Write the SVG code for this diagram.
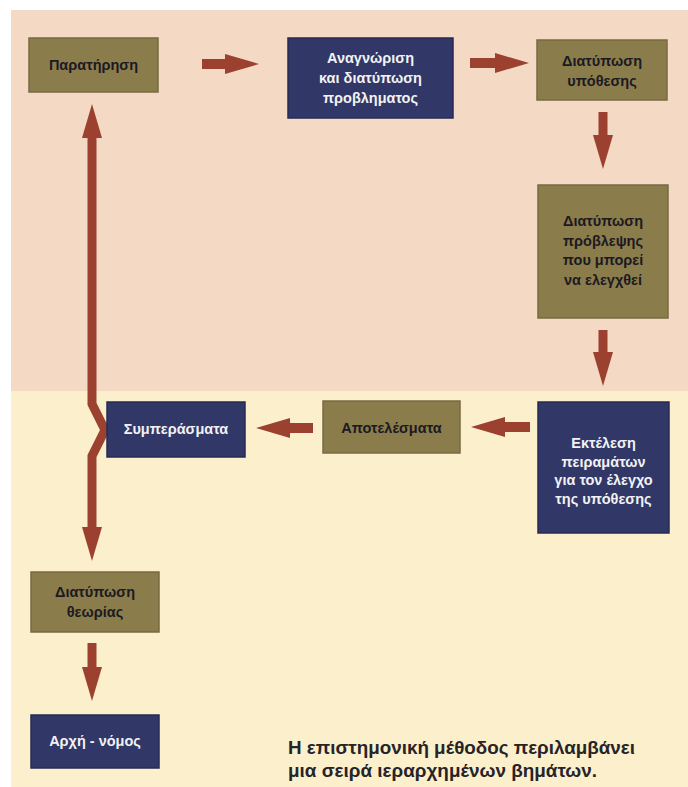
<svg xmlns="http://www.w3.org/2000/svg" width="688" height="787" viewBox="0 0 688 787">
  <defs>
    <style>
      .olive { fill: #8b7c4c; stroke: #786a40; stroke-width: 1.5; }
      .navy { fill: #313767; stroke: #262b54; stroke-width: 1.5; }
      .t { font-family: "Liberation Sans", Arial, sans-serif; font-weight: bold; font-size: 14.5px; text-anchor: middle; }
      .dark { fill: #1b1a22; }
      .light { fill: #f2f2f4; }
      .arr { fill: none; stroke: #9c4030; stroke-linejoin: miter; }
      .h { stroke-width: 10; }
      .v { stroke-width: 9; }
      .cap { font-family: "Liberation Sans", Arial, sans-serif; font-weight: bold; font-size: 17.5px; fill: #262428; }
    </style>
    <marker id="head" markerUnits="userSpaceOnUse" viewBox="0 0 34 20" markerWidth="34" markerHeight="20" refX="1" refY="10" orient="auto-start-reverse">
      <path d="M0,0 L34,10 L0,20 z" fill="#9c4030"/>
    </marker>
  </defs>

  <rect x="0" y="0" width="688" height="787" fill="#ffffff"/>
  <rect x="11" y="10" width="677" height="381" fill="#f4d9c4"/>
  <rect x="11" y="391" width="677" height="396" fill="#fcf0cc"/>

  <g id="connectors">
    <path class="arr h" d="M202,64 H226" marker-end="url(#head)"/>
    <path class="arr h" d="M470,63 H496" marker-end="url(#head)"/>
    <path class="arr v" d="M603,112 V136" marker-end="url(#head)"/>
    <path class="arr v" d="M603,330 V353" marker-end="url(#head)"/>
    <path class="arr h" d="M530,427 H504" marker-end="url(#head)"/>
    <path class="arr h" d="M313,428 H289" marker-end="url(#head)"/>
    <path class="arr v" d="M92,528 V456 L105,430 L92,404 V137" marker-start="url(#head)" marker-end="url(#head)"/>
    <path class="arr v" d="M92,643 V668" marker-end="url(#head)"/>
  </g>

  <g id="paratirisi">
    <rect class="olive" x="29" y="38" width="129" height="54"/>
    <text class="t dark" x="93.5" y="70">Παρατήρηση</text>
  </g>

  <g id="anagnorisi">
    <rect class="navy" x="288" y="38" width="165" height="80"/>
    <text class="t light" x="370.5" y="63">Αναγνώριση</text>
    <text class="t light" x="370.5" y="83">και διατύπωση</text>
    <text class="t light" x="370.5" y="103">προβληματος</text>
  </g>

  <g id="ypothesi">
    <rect class="olive" x="537" y="40" width="130" height="60"/>
    <text class="t dark" x="602" y="66">Διατύπωση</text>
    <text class="t dark" x="602" y="86">υπόθεσης</text>
  </g>

  <g id="provlepsi">
    <rect class="olive" x="538" y="185" width="130" height="133"/>
    <text class="t dark" x="603" y="226">Διατύπωση</text>
    <text class="t dark" x="603" y="245.5">πρόβλεψης</text>
    <text class="t dark" x="603" y="265">που μπορεί</text>
    <text class="t dark" x="603" y="284.5">να ελεγχθεί</text>
  </g>

  <g id="ektelesi">
    <rect class="navy" x="538" y="402" width="131" height="131"/>
    <text class="t light" x="603.5" y="448">Εκτέλεση</text>
    <text class="t light" x="603.5" y="466.5">πειραμάτων</text>
    <text class="t light" x="603.5" y="485">για τον έλεγχο</text>
    <text class="t light" x="603.5" y="503.5">της υπόθεσης</text>
  </g>

  <g id="apotelesmata">
    <rect class="olive" x="323" y="401" width="137" height="52"/>
    <text class="t dark" x="391.5" y="433">Αποτελέσματα</text>
  </g>

  <g id="symperasmata">
    <rect class="navy" x="107" y="402" width="138" height="55"/>
    <text class="t light" x="176" y="434">Συμπεράσματα</text>
  </g>

  <g id="theoria">
    <rect class="olive" x="31" y="572" width="128" height="60"/>
    <text class="t dark" x="95" y="597">Διατύπωση</text>
    <text class="t dark" x="95" y="617">θεωρίας</text>
  </g>

  <g id="arxi-nomos">
    <rect class="navy" x="31" y="715" width="128" height="53"/>
    <text class="t light" x="95" y="746">Αρχή - νόμος</text>
  </g>

  <g id="caption">
    <text class="cap" x="288" y="754" textLength="347" lengthAdjust="spacingAndGlyphs">Η επιστημονική μέθοδος περιλαμβάνει</text>
    <text class="cap" x="288" y="777" textLength="309" lengthAdjust="spacingAndGlyphs">μια σειρά ιεραρχημένων βημάτων.</text>
  </g>
</svg>
